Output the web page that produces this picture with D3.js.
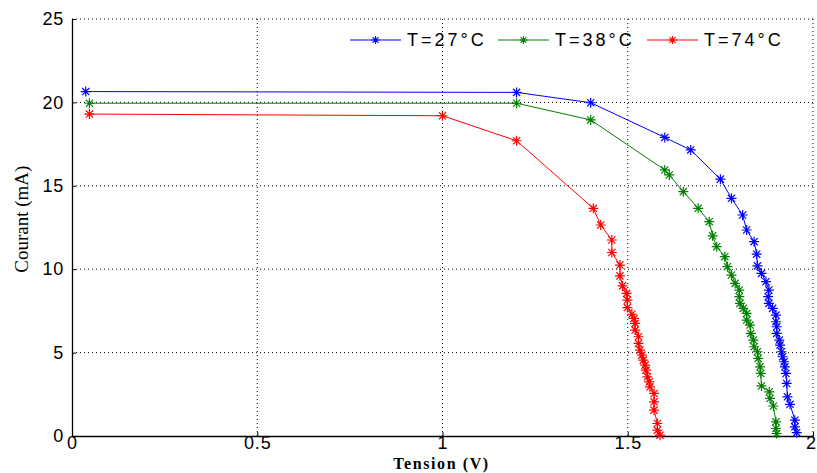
<!DOCTYPE html>
<html>
<head>
<meta charset="utf-8">
<script src="https://cdn.jsdelivr.net/npm/d3@7"></script>
<style>
	body { margin: 0; background: #fff; }
	svg { display: block; }
	.tick-label { font-family: 'Liberation Sans', Arial, sans-serif; font-size: 18px; fill: #000; letter-spacing: 0.8px; }
	.axis-title { font-family: 'Liberation Serif', 'Times New Roman', serif; fill: #000; }
	.legend-text { font-family: 'Liberation Sans', Arial, sans-serif; font-size: 18px; fill: #000; letter-spacing: 3px; }
</style>
</head>
<body>
<div id="chart"></div>
<script>
// data: tension (V) and courant (mA)
const series = ['T=27°C', 'T=38°C', 'T=74°C'];
const colors = ['#0000ff', '#008000', '#ff0000'];

const v27 = [0.037, 1.20, 1.40, 1.60, 1.67, 1.75, 1.78, 1.81, 1.821, 1.841, 1.848, 1.850, 1.861, 1.873, 1.881, 1.879, 1.881, 1.891, 1.900, 1.900, 1.902, 1.902, 1.909, 1.911, 1.915, 1.918, 1.922, 1.924, 1.927, 1.929, 1.931, 1.938, 1.951, 1.951, 1.956];
const i27 = [20.65, 20.6, 19.98, 17.9, 17.15, 15.4, 14.25, 13.25, 12.35, 11.65, 10.9, 10.2, 9.75, 9.25, 8.75, 8.35, 7.95, 7.65, 7.25, 6.85, 6.55, 6.15, 5.75, 5.45, 5.05, 4.75, 4.45, 4.15, 3.75, 3.15, 2.35, 1.9, 0.95, 0.55, 0.2];

const v38 = [0.047, 1.20, 1.40, 1.60, 1.612, 1.65, 1.69, 1.72, 1.729, 1.74, 1.762, 1.769, 1.78, 1.790, 1.801, 1.801, 1.803, 1.812, 1.821, 1.821, 1.830, 1.832, 1.839, 1.841, 1.850, 1.852, 1.857, 1.859, 1.861, 1.882, 1.884, 1.893, 1.900, 1.900, 1.902];
const i38 = [19.95, 19.95, 18.95, 15.95, 15.65, 14.65, 13.65, 12.85, 12.0, 11.35, 10.75, 10.15, 9.65, 9.15, 8.75, 8.35, 7.95, 7.65, 7.35, 6.95, 6.65, 6.15, 5.75, 5.35, 5.05, 4.65, 4.15, 3.75, 3.0, 2.65, 2.25, 1.8, 0.85, 0.45, 0.15];

const v74 = [0.047, 1.0, 1.2, 1.407, 1.427, 1.457, 1.457, 1.479, 1.479, 1.486, 1.497, 1.499, 1.499, 1.511, 1.517, 1.520, 1.520, 1.529, 1.529, 1.533, 1.538, 1.542, 1.547, 1.549, 1.553, 1.558, 1.560, 1.571, 1.571, 1.571, 1.580, 1.580, 1.587];
const i74 = [19.3, 19.2, 17.7, 13.65, 12.65, 11.75, 11.0, 10.25, 9.6, 9.0, 8.55, 8.15, 7.7, 7.3, 7.05, 6.75, 6.35, 5.95, 5.55, 5.15, 4.85, 4.55, 4.25, 3.95, 3.55, 3.25, 2.95, 2.55, 2.05, 1.55, 0.75, 0.35, 0.05];

const xTicks = [0, 0.5, 1, 1.5, 2];
const yTicks = [0, 5, 10, 15, 20, 25];

const WIDTH = 817;
const HEIGHT = 473;
const MARGIN = { top: 19, right: 4, bottom: 37, left: 72 };

const voltages = [v27, v38, v74];
const currents = [i27, i38, i74];
const data = series.map((name, s) => ({
	name,
	color: colors[s],
	points: voltages[s].map((v, k) => [v, currents[s][k]])
}));

const $svg = d3.select('#chart').append('svg')
	.attr('width', WIDTH)
	.attr('height', HEIGHT);

const x = d3.scaleLinear().domain([0, 2]).range([MARGIN.left, WIDTH - MARGIN.right]);
const y = d3.scaleLinear().domain([0, 25]).range([HEIGHT - MARGIN.bottom, MARGIN.top]);

// dotted grid (top and right edges are grid lines too, box off)
const $grid = $svg.append('g').attr('class', 'grid');
$grid.selectAll('.gx')
	.data(xTicks.filter(d => d > 0))
	.join('line')
	.attr('x1', d => x(d)).attr('x2', d => x(d))
	.attr('y1', y(0)).attr('y2', y(25))
	.attr('stroke', '#000').attr('stroke-width', 1)
	.attr('stroke-dasharray', '1,3');
$grid.selectAll('.gy')
	.data(yTicks.filter(d => d > 0))
	.join('line')
	.attr('x1', x(0)).attr('x2', x(2))
	.attr('y1', d => y(d)).attr('y2', d => y(d))
	.attr('stroke', '#000').attr('stroke-width', 1)
	.attr('stroke-dasharray', '1,3');

// axes
const xAxis = d3.axisBottom(x).tickValues(xTicks).tickFormat(d3.format('')).tickSizeInner(-4).tickSizeOuter(0).tickPadding(1);
const yAxis = d3.axisLeft(y).tickValues(yTicks).tickSizeInner(-4).tickSizeOuter(0).tickPadding(8);

const $xAxis = $svg.append('g')
	.attr('transform', `translate(0,${y(0)})`)
	.call(xAxis);
const $yAxis = $svg.append('g')
	.attr('transform', `translate(${x(0)},0)`)
	.call(yAxis);

[$xAxis, $yAxis].forEach($a => {
	$a.select('.domain').attr('stroke', '#000').attr('stroke-width', 1.3);
	$a.selectAll('.tick line').attr('stroke', '#000');
	$a.selectAll('.tick text').attr('class', 'tick-label').attr('font-size', null).attr('font-family', null);
});
$xAxis.selectAll('.tick text')
	.attr('dy', '0.68em')
	.attr('dx', d => (d === 2 ? -2 : 0));

// axis titles
$svg.append('text')
	.attr('class', 'axis-title')
	.attr('x', (x(0) + x(2)) / 2 - 1)
	.attr('y', 469)
	.attr('text-anchor', 'middle')
	.style('font-size', '16px')
	.style('font-weight', 'bold')
	.style('letter-spacing', '1.6px')
	.text('Tension (V)');

$svg.append('text')
	.attr('class', 'axis-title')
	.attr('transform', `translate(28,${y(13)}) rotate(-90)`)
	.attr('text-anchor', 'middle')
	.style('font-size', '19px')
	.text('Courant (mA)');

// curves
const line = d3.line().x(d => x(d[0])).y(d => y(d[1]));

function star(size) {
	const r = size;
	const q = size * 0.72;
	return `M${-r},0H${r}M0,${-r}V${r}M${-q},${-q}L${q},${q}M${-q},${q}L${q},${-q}`;
}

const $series = $svg.append('g').attr('class', 'series')
	.selectAll('g')
	.data(data)
	.join('g');

$series.append('path')
	.attr('d', d => line(d.points))
	.attr('fill', 'none')
	.attr('stroke', d => d.color)
	.attr('stroke-width', 1);

$series.each(function(d) {
	d3.select(this).selectAll('.mark')
		.data(d.points)
		.join('path')
		.attr('class', 'mark')
		.attr('transform', p => `translate(${x(p[0])},${y(p[1])})`)
		.attr('d', star(5))
		.attr('stroke', d.color)
		.attr('stroke-width', 1.2)
		.attr('fill', 'none');
});

// legend
const legendX = [350, 498, 647];
const legendY = 40;
const $legend = $svg.append('g').attr('class', 'legend')
	.selectAll('g')
	.data(data)
	.join('g')
	.attr('transform', (d, i) => `translate(${legendX[i]},${legendY})`);

$legend.append('line')
	.attr('x1', 0).attr('x2', 51)
	.attr('stroke', d => d.color)
	.attr('stroke-width', 1);
$legend.append('path')
	.attr('transform', 'translate(25.5,0)')
	.attr('d', star(4))
	.attr('stroke', d => d.color)
	.attr('stroke-width', 1.1)
	.attr('fill', 'none');
$legend.append('text')
	.attr('class', 'legend-text')
	.attr('x', 57)
	.attr('dy', '0.36em')
	.text(d => d.name);
</script>
</body>
</html>
